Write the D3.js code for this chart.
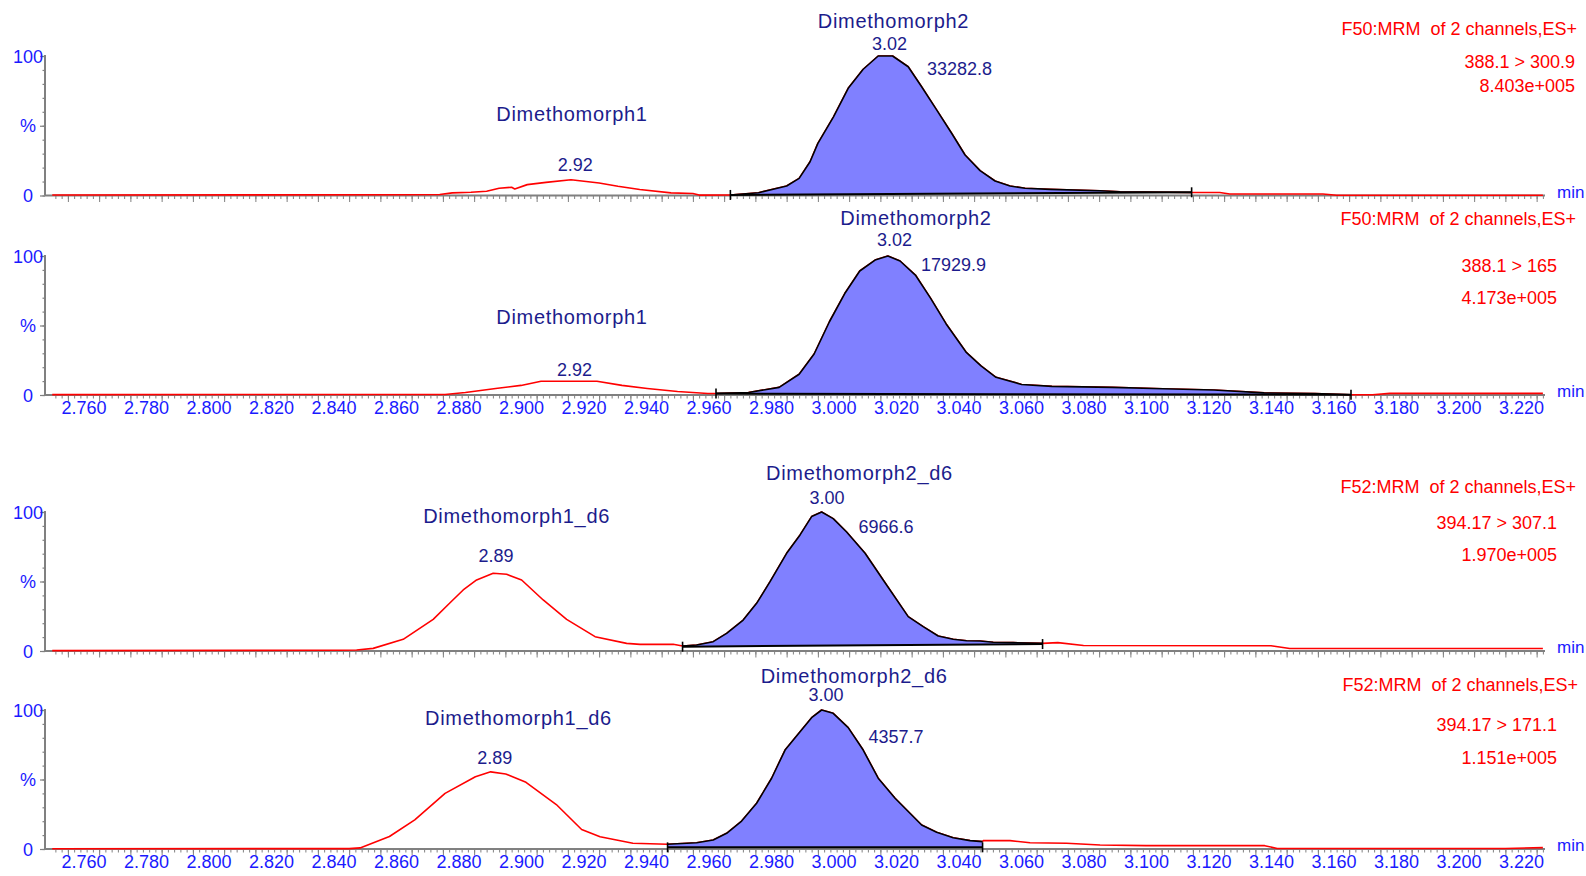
<!DOCTYPE html>
<html>
<head>
<meta charset="utf-8">
<script src="https://cdn.jsdelivr.net/npm/d3@7"></script>
<style>
  body { margin: 0; background: #fff; }
  text { font-family: "Liberation Sans", Arial, sans-serif; }
</style>
</head>
<body>
<svg id="chart" width="1586" height="876"></svg>
<script>
// traces: [retention time (min), intensity %]
const trace1 = [
  [2.750, 0.4], [2.860, 0.5], [2.874, 0.7], [2.878, 1.9], [2.884, 2.3], [2.889, 3.0],
  [2.893, 5.2], [2.897, 5.9], [2.898, 4.7], [2.902, 7.8], [2.908, 9.4], [2.916, 11.3],
  [2.925, 9.0], [2.931, 6.6], [2.938, 4.3], [2.948, 1.9], [2.955, 1.4], [2.957, 0.3],
  [2.967, 0.4], [2.976, 2.0], [2.985, 6.8], [2.989, 12.3], [2.9925, 24.2], [2.995, 37.4],
  [3.000, 56.4], [3.0047, 76.8], [3.0095, 90.5], [3.0143, 100], [3.0189, 100], [3.0239, 92.3],
  [3.0282, 78.0], [3.033, 61.4], [3.0378, 44.6], [3.0421, 29.0], [3.0469, 17.8], [3.0517, 10.4],
  [3.0565, 6.8], [3.0613, 5.2], [3.0693, 4.4], [3.0853, 3.4], [3.0917, 2.7], [3.1146, 2.2],
  [3.1236, 2.2], [3.1268, 1.1], [3.1566, 1.1], [3.161, 0.2], [3.227, 0.2]
];
const trace2 = [
  [2.750, 0.3], [2.8757, 0.4], [2.8822, 1.8], [2.8919, 4.7], [2.900, 6.9], [2.9064, 9.9],
  [2.9145, 9.9], [2.9243, 9.9], [2.9323, 6.9], [2.9404, 4.7], [2.9501, 2.5], [2.9598, 1.1],
  [2.9624, 1.1], [2.9728, 1.8], [2.9826, 5.5], [2.989, 14.9], [2.9938, 29.5], [2.9987, 52.7],
  [3.0036, 73.0], [3.0084, 89.2], [3.0133, 97.1], [3.0174, 100], [3.0213, 96.4], [3.0262, 86.3],
  [3.0311, 69.5], [3.036, 51.3], [3.0424, 30.9], [3.0472, 20.9], [3.052, 12.7], [3.0602, 7.6],
  [3.0699, 6.2], [3.0893, 5.5], [3.1054, 4.5], [3.1217, 3.6], [3.1378, 1.5], [3.1541, 1.1],
  [3.1656, 0.2], [3.1725, 0.2], [3.178, 1.2], [3.227, 1.2]
];
const trace3 = [
  [2.750, 0.3], [2.842, 0.5], [2.8474, 0.7], [2.8527, 1.9], [2.8623, 8.4], [2.8719, 22.8],
  [2.8773, 34.7], [2.8815, 43.9], [2.8858, 51.1], [2.8911, 55.9], [2.8954, 55.2], [2.9002, 51.1],
  [2.9071, 36.7], [2.9146, 22.8], [2.9237, 10.3], [2.9338, 5.5], [2.9381, 4.8], [2.9487, 4.8],
  [2.9517, 3.6], [2.9562, 4.3], [2.9615, 6.7], [2.9658, 12.7], [2.9711, 22.3], [2.9754, 34.3],
  [2.9797, 49.9], [2.985, 70.3], [2.9893, 83.5], [2.993, 96.7], [2.9962, 100], [2.9999, 95.2],
  [3.0042, 85.6], [3.0101, 70.3], [3.0159, 51.1], [3.0239, 24.7], [3.0287, 17.5], [3.0335, 10.8],
  [3.0383, 8.4], [3.0426, 7.4], [3.0469, 7.2], [3.0511, 6.3], [3.0575, 6.0], [3.0669, 5.5],
  [3.0718, 6.0], [3.080, 4.0], [3.140, 3.8], [3.146, 1.8], [3.227, 1.8]
];
const trace4 = [
  [2.750, 0.2], [2.845, 0.3], [2.8485, 0.8], [2.8579, 9.0], [2.866, 21.0], [2.8757, 40.0],
  [2.8854, 52.0], [2.8903, 55.5], [2.8951, 54.0], [2.9016, 48.0], [2.9113, 32.0], [2.9194, 14.0],
  [2.9253, 8.8], [2.9358, 4.1], [2.9469, 3.4], [2.9562, 4.5], [2.9615, 6.5], [2.9658, 11.3],
  [2.9706, 20.1], [2.9754, 32.9], [2.9802, 50.9], [2.9845, 71.2], [2.9893, 84.4], [2.993, 94.5],
  [2.9962, 100], [2.9999, 97.6], [3.0047, 87.3], [3.0095, 71.2], [3.0143, 50.9], [3.0197, 36.5],
  [3.0282, 17.3], [3.033, 12.0], [3.0383, 8.1], [3.0437, 6.0], [3.0477, 5.3], [3.0479, 6.0],
  [3.0565, 6.0], [3.0629, 4.5], [3.0746, 4.1], [3.0853, 2.9], [3.100, 2.4], [3.138, 2.4],
  [3.142, 0.4], [3.215, 0.4], [3.227, 1.0]
];

// integrated peak: start/end time and baseline level (%)
const peak1 = { start: 2.967, end: 3.1146, baseStart: 0.4, baseEnd: 2.3 };
const peak2 = { start: 2.9624, end: 3.1656, baseStart: 1.0, baseEnd: 0.2 };
const peak3 = { start: 2.9517, end: 3.0669, baseStart: 3.1, baseEnd: 5.0 };
const peak4 = { start: 2.9469, end: 3.0477, baseStart: 1.2, baseEnd: 1.2 };

// peak annotations anchored at [time, %]
const notes1 = [
  { text: "Dimethomorph2", t: 3.0192, p: 120.1, name: true },
  { text: "3.02", t: 3.0179, p: 104.3 },
  { text: "33282.8", t: 3.0403, p: 86.4 },
  { text: "Dimethomorph1", t: 2.9163, p: 53.4, name: true },
  { text: "2.92", t: 2.9174, p: 17.6 }
];
const notes2 = [
  { text: "Dimethomorph2", t: 3.0264, p: 122.2, name: true },
  { text: "3.02", t: 3.0195, p: 107.0 },
  { text: "17929.9", t: 3.0384, p: 89.1 },
  { text: "Dimethomorph1", t: 2.9163, p: 50.9, name: true },
  { text: "2.92", t: 2.9171, p: 13.5 }
];
const notes3 = [
  { text: "Dimethomorph2_d6", t: 3.0083, p: 123.0, name: true },
  { text: "3.00", t: 2.9979, p: 105.8 },
  { text: "6966.6", t: 3.0168, p: 84.9 },
  { text: "Dimethomorph1_d6", t: 2.8986, p: 92.3, name: true },
  { text: "2.89", t: 2.892, p: 64.2 }
];
const notes4 = [
  { text: "Dimethomorph2_d6", t: 3.0066, p: 119.4, name: true },
  { text: "3.00", t: 2.9976, p: 106.7 },
  { text: "4357.7", t: 3.0200, p: 76.5 },
  { text: "Dimethomorph1_d6", t: 2.8992, p: 89.2, name: true },
  { text: "2.89", t: 2.8916, p: 61.4 }
];

const info1 = ["F50:MRM  of 2 channels,ES+", "388.1 > 300.9", "8.403e+005"];
const info2 = ["F50:MRM  of 2 channels,ES+", "388.1 > 165", "4.173e+005"];
const info3 = ["F52:MRM  of 2 channels,ES+", "394.17 > 307.1", "1.970e+005"];
const info4 = ["F52:MRM  of 2 channels,ES+", "394.17 > 171.1", "1.151e+005"];

const xTickLabels = d3.range(0, 24).map(i => +(2.76 + i * 0.02).toFixed(3));

// layout
const panels = [
  { trace: trace1, peak: peak1, notes: notes1, info: info1, top: 56, zero: 195.5, infoY: [35, 68, 92], infoX: [1577, 1575, 1575], labels: false },
  { trace: trace2, peak: peak2, notes: notes2, info: info2, top: 256, zero: 395, infoY: [224.5, 272, 304.4], infoX: [1576, 1557, 1557], labels: true },
  { trace: trace3, peak: peak3, notes: notes3, info: info3, top: 512, zero: 651, infoY: [492.5, 529, 561.3], infoX: [1576, 1557, 1557], labels: false },
  { trace: trace4, peak: peak4, notes: notes4, info: info4, top: 710, zero: 849, infoY: [690.8, 731, 763.6], infoX: [1578, 1557, 1557], labels: true }
];

const red = "#ff0000";
const navy = "#1c1c8c";
const blue = "#1a1aff";
const axisGray = "#808080";
const fillBlue = "#8080ff";

const svg = d3.select("#chart");
const x = d3.scaleLinear().domain([2.76, 3.22]).range([83.5, 1521]);

const minorTicks = d3.range(0, 240).map(i => 2.751 + i * 0.002).filter(t => t <= 3.227);
const majorTicks = d3.range(0, 48).map(i => 2.755 + i * 0.01).filter(t => t <= 3.227);

panels.forEach(pn => {
  const y = d3.scaleLinear().domain([0, 100]).range([pn.zero, pn.top]);
  const g = svg.append("g");

  // x axis line + ticks
  g.append("line")
    .attr("x1", 45).attr("x2", 1545)
    .attr("y1", pn.zero).attr("y2", pn.zero)
    .attr("stroke", axisGray).attr("stroke-width", 2);

  const tickAxis = (vals, size) => gAxis => gAxis
    .attr("transform", `translate(0,${pn.zero})`)
    .call(d3.axisBottom(x).tickValues(vals).tickSize(size).tickFormat(""))
    .call(s => s.select(".domain").remove())
    .call(s => s.selectAll("line").attr("stroke", axisGray).attr("stroke-width", 1));
  g.append("g").call(tickAxis(minorTicks, 3.5));
  g.append("g").call(tickAxis(majorTicks, 6.5));

  if (pn.labels) {
    g.append("g")
      .attr("transform", `translate(0,${pn.zero})`)
      .call(d3.axisBottom(x).tickValues(xTickLabels).tickSize(0).tickPadding(6).tickFormat(d3.format(".3f")))
      .call(s => s.select(".domain").remove())
      .call(s => s.selectAll("text")
        .attr("fill", blue)
        .attr("font-size", 18)
        .attr("font-family", "Liberation Sans, Arial, sans-serif"));
  }

  g.append("text")
    .attr("x", 1557).attr("y", pn.zero + 2)
    .attr("fill", blue).attr("font-size", 17)
    .text("min");

  // y axis
  g.append("line")
    .attr("x1", 45).attr("x2", 45)
    .attr("y1", y(100) - 1).attr("y2", pn.zero)
    .attr("stroke", axisGray).attr("stroke-width", 2);

  g.append("g")
    .attr("transform", "translate(45,0)")
    .call(d3.axisLeft(y).tickValues(d3.range(0, 101, 10)).tickSize(2.5).tickFormat(""))
    .call(s => s.select(".domain").remove())
    .call(s => s.selectAll("line").attr("stroke", axisGray).attr("stroke-width", 1.2));
  g.append("g")
    .attr("transform", "translate(45,0)")
    .call(d3.axisLeft(y).tickValues([0, 50, 100]).tickSize(5).tickFormat(""))
    .call(s => s.select(".domain").remove())
    .call(s => s.selectAll("line").attr("stroke", axisGray).attr("stroke-width", 1.2));

  [[100, "100"], [50, "%"], [0, "0"]].forEach(([v, s]) => {
    g.append("text")
      .attr("x", 28).attr("y", y(v) + 6.5)
      .attr("text-anchor", "middle")
      .attr("fill", blue).attr("font-size", 18)
      .text(s);
  });

  // raw trace
  const line = d3.line().x(d => x(d[0])).y(d => y(d[1]));
  g.append("path")
    .attr("d", line(pn.trace))
    .attr("fill", "none")
    .attr("stroke", red)
    .attr("stroke-width", 1.6)
    .attr("stroke-linejoin", "round");

  // integrated peak
  const pk = pn.peak;
  const pts = pn.trace.filter(d => d[0] >= pk.start - 1e-6 && d[0] <= pk.end + 1e-6);
  const poly = pts.concat([[pk.end, pk.baseEnd], [pk.start, pk.baseStart]]);
  g.append("path")
    .attr("d", line(poly) + "Z")
    .attr("fill", fillBlue)
    .attr("stroke", "none");
  g.append("path")
    .attr("d", line(pts))
    .attr("fill", "none")
    .attr("stroke", "#000")
    .attr("stroke-width", 1.6)
    .attr("stroke-linejoin", "round");
  g.append("line")
    .attr("x1", x(pk.start)).attr("y1", y(pk.baseStart))
    .attr("x2", x(pk.end)).attr("y2", y(pk.baseEnd))
    .attr("stroke", "#000").attr("stroke-width", 2);
  [[pk.start, pk.baseStart], [pk.end, pk.baseEnd]].forEach(([t, b]) => {
    g.append("line")
      .attr("x1", x(t)).attr("x2", x(t))
      .attr("y1", y(b) - 5).attr("y2", y(b) + 5)
      .attr("stroke", "#000").attr("stroke-width", 1.6);
  });

  // annotations
  pn.notes.forEach(n => {
    g.append("text")
      .attr("x", x(n.t)).attr("y", y(n.p))
      .attr("text-anchor", "middle")
      .attr("fill", navy)
      .attr("font-size", n.name ? 20 : 18)
      .attr("letter-spacing", n.name ? 0.7 : 0)
      .text(n.text);
  });

  pn.info.forEach((s, i) => {
    g.append("text")
      .attr("x", pn.infoX[i]).attr("y", pn.infoY[i])
      .attr("text-anchor", "end")
      .attr("fill", red)
      .attr("font-size", 18)
      .attr("xml:space", "preserve")
      .style("white-space", "pre")
      .text(s);
  });
});
</script>
</body>
</html>
